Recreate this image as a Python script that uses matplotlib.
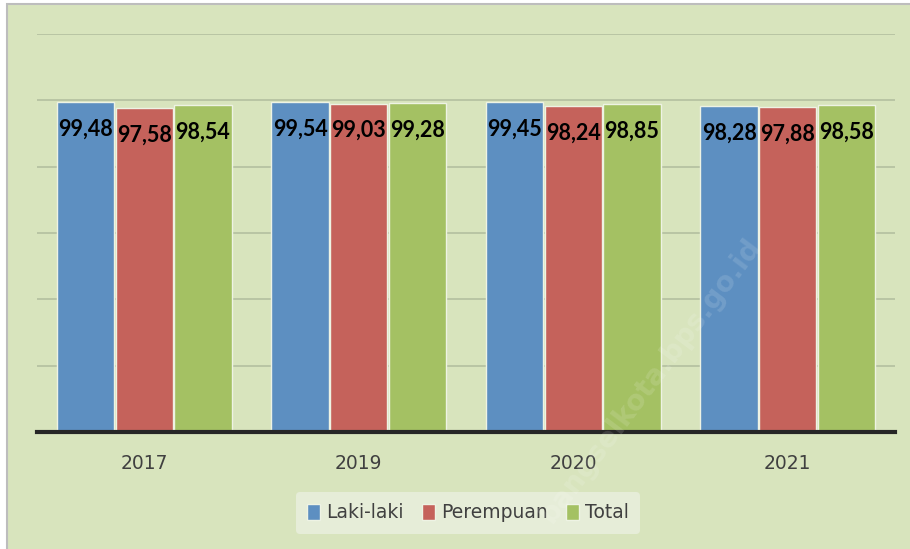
import matplotlib
matplotlib.use("Agg")
import matplotlib.pyplot as plt
from matplotlib.patches import Rectangle
import numpy as np

years = ["2017", "2019", "2020", "2021"]
series_names = ["Laki-laki", "Perempuan", "Total"]
laki = [99.48, 99.54, 99.45, 98.28]
perempuan = [97.58, 99.03, 98.24, 97.88]
total = [98.54, 99.28, 98.85, 98.58]
labels_laki = ["99,48", "99,54", "99,45", "98,28"]
labels_perempuan = ["97,58", "99,03", "98,24", "97,88"]
labels_total = ["98,54", "99,28", "98,85", "98,58"]

W, H = 910, 549
fig = plt.figure(figsize=(W/100, H/100), dpi=100)
fig.patch.set_facecolor("white")
bg = "#d8e4bd"
fig.patches.append(Rectangle((7/W, -0.01), 1.02 - 7/W, (H-4)/H + 0.01,
                             transform=fig.transFigure, facecolor=bg,
                             edgecolor="#bdbdbd", lw=1.5, zorder=-10))

ax = fig.add_axes([37/W, (H-432)/H, (895-37)/W, (432-34)/H])
ax.set_zorder(2)
ax.set_facecolor("none")
ax.set_ylim(0, 120)
ax.set_xlim(-0.5, 3.5)
ax.set_yticks([20, 40, 60, 80, 100, 120])
ax.yaxis.grid(True, color="#b3bfa0", lw=1.2)
ax.set_axisbelow(True)
ax.tick_params(axis="y", length=0, labelleft=False)
ax.tick_params(axis="x", length=0, pad=16, labelsize=13.5, labelcolor="#404040")
for s in ["top", "right", "left"]:
    ax.spines[s].set_visible(False)
ax.spines["bottom"].set_color("#262626")
ax.spines["bottom"].set_linewidth(3)
ax.spines["bottom"].set_zorder(5)

x = np.arange(len(years))
bw = 0.268
colors = ["#5d8fc1", "#c5625b", "#a4c163"]
data = [laki, perempuan, total]
labs = [labels_laki, labels_perempuan, labels_total]
offs = [-bw - 0.005, 0, bw + 0.005]
for i in range(3):
    bars = ax.bar(x + offs[i], data[i], bw, color=colors[i], edgecolor="#eef3e4",
                  lw=1, label=series_names[i], zorder=3)
    for xi, v, t in zip(x + offs[i], data[i], labs[i]):
        ax.annotate(t, (xi, v), xytext=(0, -19.5), textcoords="offset points",
                    ha="center", va="center", fontsize=15.5, fontweight="bold",
                    family="Lato", color="black", zorder=6)

ax.set_xticks(x)
ax.set_xticklabels(years)

leg = ax.legend(loc="center", bbox_to_anchor=((468-37)/(895-37), -(513-432)/(432-34)),
                ncol=3, frameon=True, fontsize=13.5, handlelength=0.7, handleheight=0.9,
                handletextpad=0.3, columnspacing=1.0, borderpad=0.6)
leg.get_frame().set_facecolor("#e6edd8")
leg.get_frame().set_edgecolor("none")
leg.get_frame().set_alpha(1)
for t in leg.get_texts():
    t.set_color("#404040")

fig.text(650/W, 1 - 380/H, "bangselkota.bps.go.id", rotation=53, ha="center", va="center",
         fontsize=20, fontweight="bold", color="white", alpha=0.13, zorder=10)

fig.savefig("out.png", dpi=100, facecolor=fig.get_facecolor())
